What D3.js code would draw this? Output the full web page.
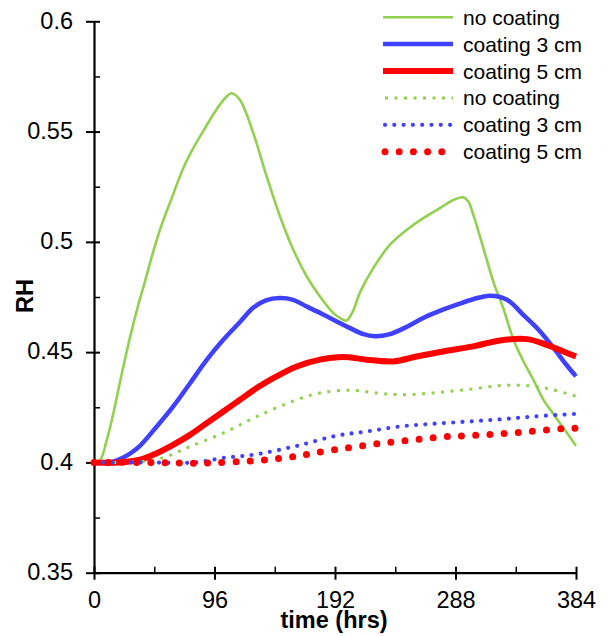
<!DOCTYPE html>
<html>
<head>
<meta charset="utf-8">
<script src="https://cdn.jsdelivr.net/npm/d3@7"></script>
<style>
    body { margin: 0; background: #fff; }
    svg { display: block; font-family: "Liberation Sans", Arial, sans-serif; }
    .axis path, .axis line { stroke: #000; }
    .axis text { fill: #000; }
</style>
</head>
<body>
<div id="chart"></div>
<script>
// RH over time, with / without coating

// solid curves
const tNoCoat = [0, 4.8, 10.1, 15.4, 23.3, 29.5, 35.3, 40.6, 47.2, 53.9, 61.9, 71.1, 79.1, 88.4, 96.4, 104.4, 109.7, 116.3, 126.9, 137.6, 148.2, 158.8, 169.5, 180, 190.7, 196, 201, 206, 212, 222.5, 235.8, 249, 262.3, 275.6, 286.3, 294.2, 298.2, 302.2, 310.2, 318.1, 326, 334, 342, 350, 358, 366, 375, 384];
const rhNoCoat = [0.4, 0.401, 0.41, 0.4222, 0.4433, 0.4586, 0.4715, 0.482, 0.4956, 0.5077, 0.5198, 0.5334, 0.5425, 0.5515, 0.559, 0.5651, 0.5674, 0.5643, 0.5493, 0.5296, 0.5115, 0.4964, 0.4843, 0.4752, 0.4677, 0.4655, 0.4643, 0.4682, 0.4772, 0.4881, 0.4987, 0.5054, 0.5108, 0.5153, 0.519, 0.5202, 0.5183, 0.5122, 0.4972, 0.482, 0.47, 0.456, 0.446, 0.4375, 0.4285, 0.422, 0.4148, 0.4076];

const tCoat3 = [0, 10, 16, 23.3, 30, 36.6, 50, 63, 76.5, 89.8, 103, 116.3, 127, 137, 148, 158, 169.5, 180, 190.7, 204, 214, 224, 235.8, 249, 262.3, 276, 289, 302, 315.5, 329, 342, 355.4, 366, 376, 384];
const rhCoat3 = [0.4, 0.4, 0.4005, 0.4022, 0.4045, 0.4075, 0.4163, 0.4253, 0.4359, 0.4465, 0.4556, 0.4637, 0.4702, 0.4735, 0.4745, 0.4738, 0.4707, 0.4678, 0.4647, 0.4609, 0.4583, 0.4572, 0.4582, 0.4614, 0.4655, 0.4688, 0.4715, 0.474, 0.4756, 0.4738, 0.4669, 0.4594, 0.452, 0.4445, 0.439];

const tCoat5 = [0, 20, 36.6, 50, 63, 76.5, 89.8, 103, 116.3, 129.6, 142.8, 161.5, 180, 198.6, 217, 238.4, 257, 278, 302, 323.4, 345, 360.6, 374, 384];
const rhCoat5 = [0.4, 0.4, 0.4012, 0.4042, 0.408, 0.4125, 0.4178, 0.4231, 0.4284, 0.4337, 0.4382, 0.4435, 0.4466, 0.4478, 0.4466, 0.4458, 0.448, 0.4503, 0.4526, 0.4553, 0.4559, 0.4533, 0.4503, 0.448];

// dotted curves
const tNoCoatD = [0, 20, 40, 58, 76.5, 103, 129.6, 161.5, 180, 204, 225, 244, 270, 297, 323, 345, 363, 384];
const rhNoCoatD = [0.4, 0.4, 0.4005, 0.4027, 0.4072, 0.4133, 0.4208, 0.4284, 0.4315, 0.4327, 0.4315, 0.4307, 0.4315, 0.433, 0.4348, 0.4348, 0.4333, 0.43];

const tCoat3D = [0, 40, 80, 103, 129.6, 161.5, 193.3, 217, 243.8, 270, 297, 323.4, 350, 384];
const rhCoat3D = [0.4, 0.4, 0.4, 0.402, 0.4037, 0.4075, 0.4121, 0.414, 0.4163, 0.4175, 0.4185, 0.4195, 0.4208, 0.422];

const tCoat5D = [0, 40, 70, 90, 119, 142.8, 161.5, 174.7, 194.6, 217, 238.4, 259.7, 281, 304.8, 328.7, 351, 374, 384];
const rhCoat5D = [0.4, 0.4, 0.3997, 0.3997, 0.4005, 0.4015, 0.4028, 0.4042, 0.406, 0.4078, 0.4093, 0.4105, 0.4117, 0.4123, 0.4132, 0.4142, 0.4153, 0.4155];

const legendLabels = ['no coating', 'coating 3 cm', 'coating 5 cm', 'no coating', 'coating 3 cm', 'coating 5 cm'];
const xTicks = [0, 96, 192, 288, 384];
const xMinor = [48, 144, 240, 336];
const yTicks = [0.35, 0.4, 0.45, 0.5, 0.55, 0.6];
const yMinor = [0.375, 0.425, 0.475, 0.525, 0.575];

const GREEN = '#92d050';
const BLUE = '#4040ff';
const RED = '#ff0000';

const series = [
    { t: tNoCoat, v: rhNoCoat, color: GREEN, width: 2.6, dash: null, cap: 'butt' },
    { t: tCoat3, v: rhCoat3, color: BLUE, width: 4.5, dash: null, cap: 'butt' },
    { t: tCoat5, v: rhCoat5, color: RED, width: 6, dash: null, cap: 'butt' },
    { t: tNoCoatD, v: rhNoCoatD, color: GREEN, width: 3, dash: '3,6.5', cap: 'butt' },
    { t: tCoat3D, v: rhCoat3D, color: BLUE, width: 4.2, dash: '0,9.3', cap: 'round' },
    { t: tCoat5D, v: rhCoat5D, color: RED, width: 7, dash: '0,14.2', cap: 'round' }
];

const width = 607, height = 636;
const svg = d3.select('#chart').append('svg')
    .attr('width', width)
    .attr('height', height);

const x = d3.scaleLinear().domain([0, 384]).range([94, 576]);
const y = d3.scaleLinear().domain([0.35, 0.6]).range([572.7, 21.3]);

// minor ticks (inside only)
svg.append('g').attr('class', 'axis')
    .attr('transform', `translate(0,${y(0.35)})`)
    .call(d3.axisTop(x).tickValues(xMinor).tickSize(6).tickSizeOuter(0).tickFormat(''))
    .call(g => g.select('.domain').remove())
    .selectAll('line').attr('stroke-width', 1.5);

svg.append('g').attr('class', 'axis')
    .attr('transform', `translate(${x(0)},0)`)
    .call(d3.axisRight(y).tickValues(yMinor).tickSize(6).tickSizeOuter(0).tickFormat(''))
    .call(g => g.select('.domain').remove())
    .selectAll('line').attr('stroke-width', 1.5);

// x axis
const xAxis = svg.append('g').attr('class', 'axis')
    .attr('transform', `translate(0,${y(0.35)})`)
    .call(d3.axisBottom(x).tickValues(xTicks).tickSize(7).tickSizeOuter(0).tickFormat(d3.format('d')));
xAxis.select('.domain').attr('stroke-width', 2.2);
xAxis.selectAll('.tick line').attr('y1', -6).attr('stroke-width', 2);
xAxis.selectAll('.tick text')
    .attr('y', 35).attr('dy', null)
    .attr('font-size', '23.5px');

// y axis
const yAxis = svg.append('g').attr('class', 'axis')
    .attr('transform', `translate(${x(0)},0)`)
    .call(d3.axisLeft(y).tickValues(yTicks).tickSize(8).tickSizeOuter(0).tickFormat(d => d3.format('')(+d.toFixed(3))));
yAxis.select('.domain').attr('stroke-width', 2.2);
yAxis.selectAll('.tick line').attr('x2', -8).attr('x1', 6).attr('stroke-width', 2);
yAxis.selectAll('.tick text')
    .attr('x', -21).attr('dy', null).attr('y', 6.8)
    .attr('font-size', '23.5px');

// axis titles
svg.append('text')
    .attr('x', 334).attr('y', 628)
    .attr('text-anchor', 'middle')
    .attr('font-size', '23.5px').attr('font-weight', 'bold')
    .text('time (hrs)');

svg.append('text')
    .attr('transform', 'translate(33,296) rotate(-90)')
    .attr('text-anchor', 'middle')
    .attr('font-size', '23.5px').attr('font-weight', 'bold')
    .text('RH');

// curves
const line = d3.line().curve(d3.curveCatmullRom.alpha(0.5));

series.forEach(s => {
    const pts = s.t.map((t, i) => [x(t), y(s.v[i])]);
    const p = svg.append('path')
        .attr('d', line(pts))
        .attr('fill', 'none')
        .attr('stroke', s.color)
        .attr('stroke-width', s.width)
        .attr('stroke-linecap', s.cap)
        .attr('stroke-linejoin', 'round');
    if (s.dash) p.attr('stroke-dasharray', s.dash);
});

// legend
const legend = svg.append('g');
series.forEach((s, i) => {
    const ly = 17.2 + i * 26.9;
    const x0 = s.dash ? 385 : 383;
    const l = legend.append('line')
        .attr('x1', x0).attr('x2', 453)
        .attr('y1', ly).attr('y2', ly)
        .attr('stroke', s.color)
        .attr('stroke-width', s.width)
        .attr('stroke-linecap', s.cap);
    if (s.dash) l.attr('stroke-dasharray', s.dash);
    legend.append('text')
        .attr('x', 463).attr('y', ly)
        .attr('dy', '0.36em')
        .attr('font-size', '21px')
        .text(legendLabels[i]);
});
</script>
</body>
</html>
